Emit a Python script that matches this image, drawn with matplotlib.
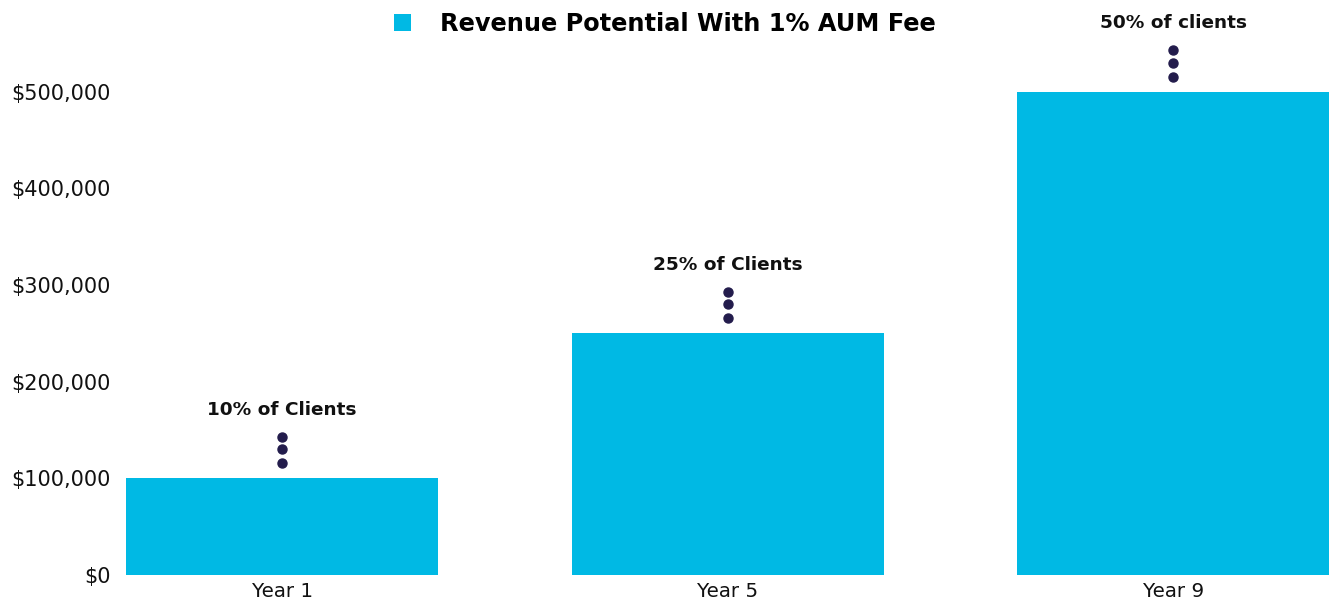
import matplotlib.pyplot as plt
import matplotlib.transforms as mtransforms
from matplotlib.ticker import FuncFormatter

# === Data ===
categories = ["Year 1", "Year 5", "Year 9"]
revenue = [100000, 250000, 500000]
notes = ["10% of Clients", "25% of Clients", "50% of clients"]
series_name = "Revenue Potential With 1% AUM Fee"

BAR_COLOR = "#00b9e4"
DOT_COLOR = "#231c4c"

plt.rcParams["font.family"] = ["DejaVu Sans"]

fig = plt.figure(figsize=(13.3, 6.06), dpi=100)
ax = fig.add_axes([120 / 1330, 31 / 606, 1210 / 1330, 575 / 606])

x = range(len(categories))
ax.bar(x, revenue, width=0.7, color=BAR_COLOR, label=series_name)

ax.set_xlim(-0.364, 2.352)
ax.set_ylim(0, 595000)
ax.set_yticks([0, 100000, 200000, 300000, 400000, 500000])
ax.yaxis.set_major_formatter(FuncFormatter(lambda v, p: f"${v:,.0f}"))
ax.set_xticks(list(x))
ax.set_xticklabels(categories)
ax.tick_params(axis="both", length=0, colors="#111111")
ax.tick_params(axis="y", pad=7, labelsize=15)
ax.tick_params(axis="x", pad=5, labelsize=14.3)
for s in ax.spines.values():
    s.set_visible(False)

# dots and notes above each bar (offsets in points)
for i, (v, note) in enumerate(zip(revenue, notes)):
    for off in (11, 21, 30):
        tr = mtransforms.offset_copy(ax.transData, fig=fig, x=0, y=off, units="points")
        ax.plot([i], [v], marker="o", ms=6.5, color=DOT_COLOR, transform=tr, clip_on=False)
    ax.annotate(note, (i, v), xytext=(0, 49.5), textcoords="offset points",
                ha="center", va="center", fontsize=13.3, fontweight="bold", color="#111111")

leg = fig.legend(loc="center", bbox_to_anchor=(0.5, 0.96), ncol=1, frameon=False,
                 handlelength=0.7, handleheight=0.7, handletextpad=1.2,
                 prop={"size": 17.3, "weight": "semibold"})

fig.savefig("out.png", dpi=100)
